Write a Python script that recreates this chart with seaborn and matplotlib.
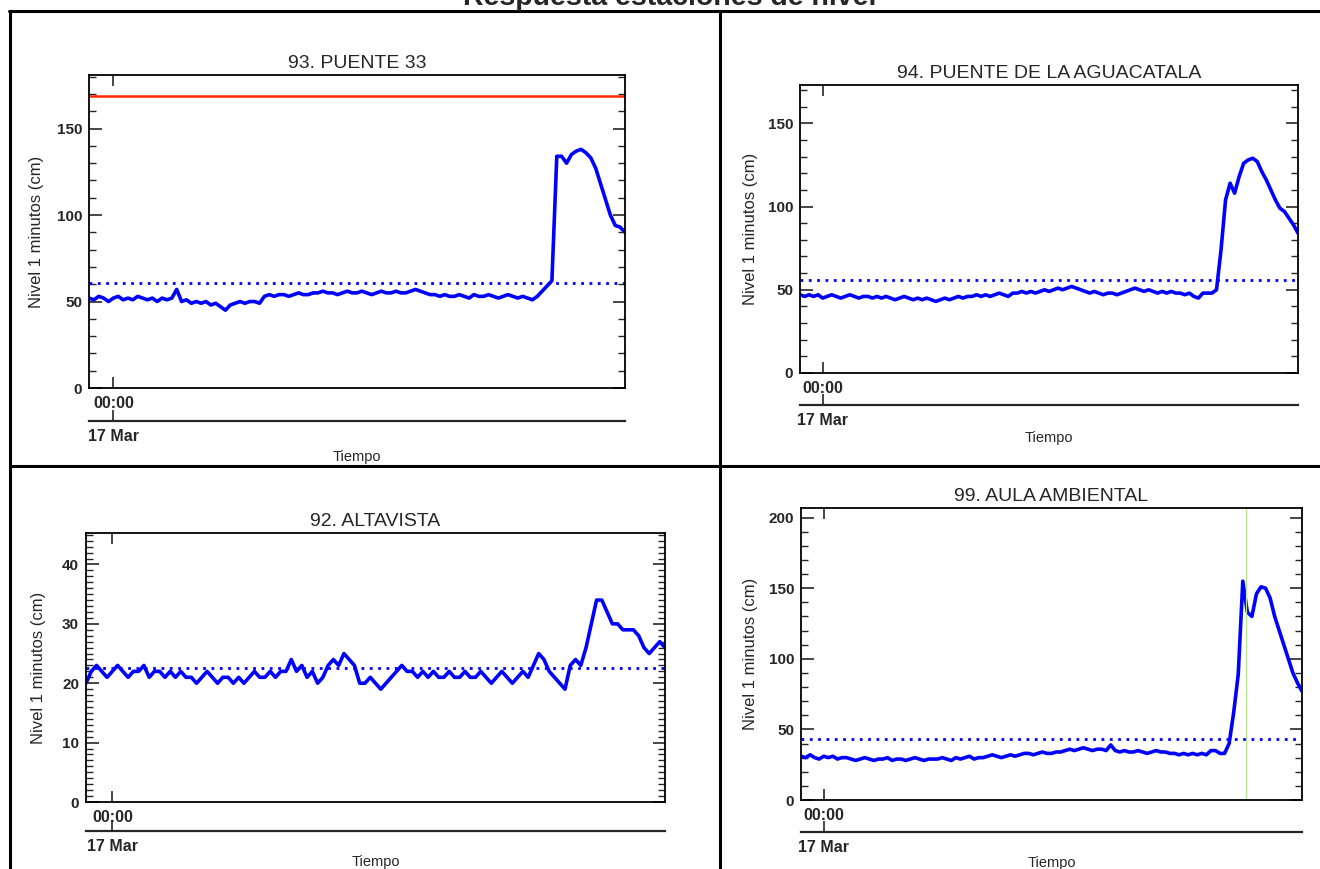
import numpy as np
import matplotlib
matplotlib.use('Agg')
import matplotlib.pyplot as plt
from matplotlib.lines import Line2D
from matplotlib.ticker import MultipleLocator
import seaborn as sns

# time axis: 12-minute steps from 23:00 of 16 Mar (hours relative to 17 Mar 00:00)
hours = np.arange(111) * 0.2 - 1.0

# level readings (cm)
puente33 = [52, 51, 53, 52, 50, 52, 53, 51, 52, 51, 53, 52, 51, 52, 50, 52, 51, 52,
            57,
            50, 51, 49, 50, 49, 50, 48, 49, 47, 45, 48, 49, 50, 49, 50, 50, 49,
            53, 54, 53, 54, 54, 53, 54, 55, 54, 54, 55,
            55, 56, 55, 55, 54, 55, 56, 55, 55, 56, 55, 54, 55, 56, 55, 55, 56, 55, 55, 56, 57, 56, 55, 54,
            54, 53, 54, 53, 53, 54, 53, 52, 54, 53, 53, 54, 53, 52, 53, 54, 53, 52, 53, 52,
            51, 53, 56, 59, 62, 134, 134, 130, 135, 137, 138, 136, 133, 127, 118, 109, 100, 94, 93, 90]

aguacatala = [47, 46, 47, 46, 47, 45, 46, 47, 46, 45, 46, 47, 46, 45, 46, 46, 45, 46,
              45, 46, 45, 44, 45, 46, 45, 44, 45, 44, 45, 44, 43, 44, 45, 44, 45, 46,
              45, 46, 46, 47, 46, 47, 46, 47, 48, 47, 46, 48, 48, 49, 48,
              49, 48, 49, 50, 49, 50, 51, 50, 51, 52, 51, 50,
              49, 48, 49, 48, 47, 48, 48, 47, 48, 49,
              50, 51, 50, 49, 50, 49, 48, 49,
              48, 49, 48, 48, 47, 48, 46, 45, 48, 48, 48,
              50, 74, 104, 114, 108, 118, 126, 128, 129, 127, 121, 116, 110, 104, 99, 97, 93, 89, 84]

altavista = [20, 22, 23, 22, 21, 22, 23, 22, 21, 22, 22, 23, 21, 22, 22, 21, 22,
             21, 22, 21, 21, 20, 21, 22, 21, 20, 21, 21, 20, 21, 20, 21, 22, 21, 21, 22, 21, 22, 22,
             24, 22, 23, 21, 22, 20, 21,
             23, 24, 23, 25, 24, 23,
             20, 20, 21, 20, 19, 20, 21,
             22, 23, 22, 22, 21, 22, 21, 22, 21, 21, 22, 21,
             21, 22, 21, 21, 22, 21, 20, 21, 22, 21, 20, 21, 22, 21,
             23, 25, 24, 22,
             21, 20, 19, 23,
             24, 23,
             26, 30, 34, 34, 32, 30, 30, 29, 29, 29, 28, 26, 25, 26, 27, 26]

aula = [31, 30, 32, 30, 29, 31, 30, 31, 29, 30, 30,
        29, 28, 29, 30, 29, 28, 29, 29, 30, 28, 29, 29, 28, 29, 30, 29, 28, 29, 29,
        29, 30, 29, 28, 30, 29, 30, 31, 29, 30, 30,
        31, 32, 31, 30, 31, 32, 31, 32, 33,
        33, 32, 33, 34, 33, 33, 34, 34,
        35, 36, 35, 36, 37, 36, 35, 36, 36, 35,
        39,
        35, 34, 35, 34, 34, 35, 34, 33, 34, 35, 34, 34, 33,
        33, 32, 33, 32, 33, 32, 33, 32,
        35, 35, 33,
        33, 40, 62, 89, 155, 133, 130, 146, 151, 150, 143, 130, 120, 110, 100, 90, 83, 77]

titles = ['93. PUENTE 33', '94. PUENTE DE LA AGUACATALA', '92. ALTAVISTA', '99. AULA AMBIENTAL']
umbral = [61, 56, 22.5, 43]
alerta_roja = 169
hora_pico = 18.54

sns.set_style('ticks')
plt.rcParams['font.family'] = ['Liberation Sans', 'DejaVu Sans']

W, H = 1320, 869
fig = plt.figure(figsize=(W / 100, H / 100), dpi=100)


def px_rect(l, r, t, b):
    return [l / W, 1 - b / H, (r - l) / W, (b - t) / H]


def draw_panel(rect, values, title, ymax, major, minor, thr, ylab_x, sec_loc, tiempo_y):
    ax = fig.add_axes(rect)
    sns.lineplot(x=hours, y=values, ax=ax, color='#0000ff', linewidth=2.6, estimator=None)
    ax.axhline(thr, color='#0000ff', lw=2.0, ls=(0, (1, 2)))
    ax.set_xlim(-1, 21)
    ax.set_ylim(0, ymax)
    ax.set_title(title, fontsize=14, pad=5)
    ax.set_ylabel('Nivel 1 minutos (cm)', fontsize=12)
    ax.set_xlabel('')
    ax.yaxis.set_label_coords(ylab_x, 0.5)
    ax.yaxis.set_major_locator(MultipleLocator(major))
    ax.yaxis.set_minor_locator(MultipleLocator(minor))
    ax.tick_params(axis='y', which='both', direction='in', left=True, right=True, labelsize=11, pad=5)
    ax.tick_params(axis='y', which='major', length=9, width=1.2)
    ax.tick_params(axis='y', which='minor', length=5, width=1.0)
    ax.set_xticks([0])
    ax.set_xticklabels(['00:00'])
    ax.tick_params(axis='x', direction='in', top=True, length=8, width=1.2, labelsize=11.5, pad=6)
    for s in ax.spines.values():
        s.set_visible(True)
        s.set_linewidth(1.3)
        s.set_color('black')
    plt.setp(ax.get_xticklabels() + ax.get_yticklabels(), fontweight='bold')

    sec = ax.secondary_xaxis(sec_loc)
    sec.set_xticks([0])
    sec.set_xticklabels(['17 Mar'])
    sec.tick_params(direction='in', length=8, width=1.2, labelsize=11.5, pad=6)
    sec.spines['bottom'].set_linewidth(1.6)
    plt.setp(sec.get_xticklabels(), fontweight='bold')

    ax.text(0.5, tiempo_y, 'Tiempo', transform=ax.transAxes, ha='center', va='center', fontsize=10.5)
    return ax


ax1 = draw_panel(px_rect(89, 625, 75, 388), puente33, titles[0], 181, 50, 10, umbral[0],
                 -44.5 / 536, -0.105, -0.22)
ax1.axhline(alerta_roja, color='#ff2a00', lw=1.8)

ax2 = draw_panel(px_rect(800, 1298, 85, 373), aguacatala, titles[1], 173, 50, 10, umbral[1],
                 -41.5 / 498, -0.111, -0.226)

ax3 = draw_panel(px_rect(86, 665, 533, 802), altavista, titles[2], 45.3, 10, 1, umbral[2],
                 -39.5 / 579, -0.108, -0.223)

ax4 = draw_panel(px_rect(801, 1302, 508, 800), aula, titles[3], 206.8, 50, 10, umbral[3],
                 -42.5 / 501, -0.108, -0.216)
ax4.axvline(hora_pico, color='#b5e48c', lw=0.9)


# table frame
def frame_line(x0, y0, x1, y1):
    fig.add_artist(Line2D([x0 / W, x1 / W], [1 - y0 / H, 1 - y1 / H],
                          transform=fig.transFigure, color='black', lw=2.2))


frame_line(9, 11, 1320, 11)
frame_line(10, 11, 10, 869)
frame_line(720, 11, 720, 869)
frame_line(10, 466, 1320, 466)

# page header, cut at the top edge as in the source document
fig.text(670 / W, 1 - 5 / H, 'Respuesta estaciones de nivel', ha='center', va='baseline',
         fontsize=20.5, fontweight='bold')

fig.savefig('out.png', dpi=100)
